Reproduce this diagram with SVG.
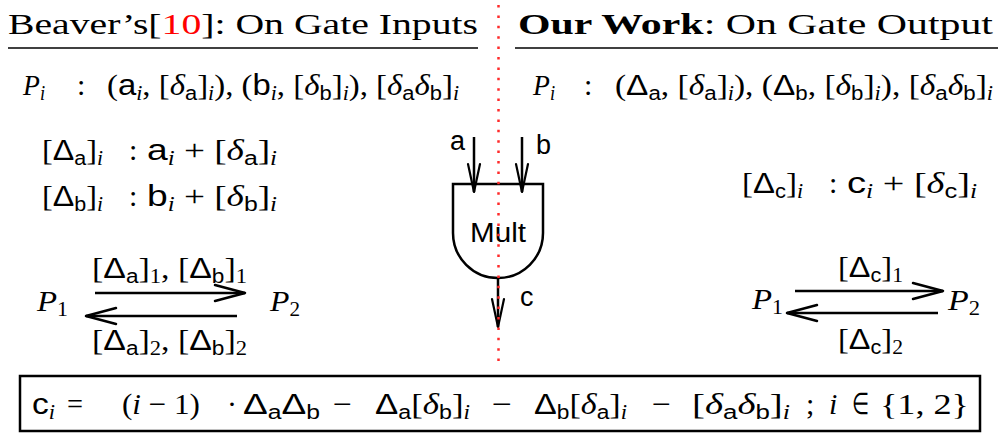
<svg xmlns="http://www.w3.org/2000/svg" width="1007" height="437" viewBox="0 0 1007 437">
<style>
.t{font-family:"Liberation Serif","Times New Roman",serif;font-size:30px;fill:#000}
.sf{font-family:"Liberation Sans",Arial,sans-serif}
.it{font-style:italic}
.sb{font-size:20px;baseline-shift:-5px}
.red{fill:#f00}
.b{font-weight:bold}
.lbl{font-family:"Liberation Sans",Arial,sans-serif;font-size:27px;fill:#000}
.ln{stroke:#000;stroke-width:2.5;fill:none}
.rule{stroke:#000;stroke-width:1.5}
</style>
<defs>
<marker id="ah" viewBox="0 0 32 18" refX="31" refY="9" markerWidth="32" markerHeight="18" markerUnits="userSpaceOnUse" orient="auto" style="overflow:visible"><path d="M1,1 L31,9 L1,17" fill="none" stroke="#000" stroke-width="2.5" stroke-linejoin="round" stroke-linecap="round"/></marker>
<marker id="ahg" viewBox="0 0 30 14" refX="29" refY="7" markerWidth="30" markerHeight="14" markerUnits="userSpaceOnUse" orient="auto" style="overflow:visible"><path d="M1,1 L29,7 L1,13" fill="none" stroke="#000" stroke-width="2.2" stroke-linejoin="round" stroke-linecap="round"/></marker>
</defs>
<rect width="1007" height="437" fill="#fff"/>

<g id="title-left">
<text class="t" x="8" y="34" textLength="470" lengthAdjust="spacingAndGlyphs">Beaver’s[<tspan class="red">10</tspan>]: On Gate Inputs</text>
<line class="rule" x1="8" y1="48" x2="478" y2="48"/>
</g>
<g id="title-right">
<text class="t" x="518" y="34" textLength="475" lengthAdjust="spacingAndGlyphs"><tspan class="b">Our Work</tspan>: On Gate Output</text>
<line class="rule" x1="515" y1="48" x2="998" y2="48"/>
</g>

<g id="left-shares">
<text class="t" x="23" y="95" textLength="22" lengthAdjust="spacingAndGlyphs"><tspan class="it">P</tspan><tspan class="it sb">i</tspan></text>
<text class="t" x="77" y="95">:</text>
<text class="t" x="107" y="95" textLength="352" lengthAdjust="spacingAndGlyphs">(<tspan class="sf">a</tspan><tspan class="it sb">i</tspan>, [<tspan class="it">δ</tspan><tspan class="sf sb">a</tspan>]<tspan class="it sb">i</tspan>), (<tspan class="sf">b</tspan><tspan class="it sb">i</tspan>, [<tspan class="it">δ</tspan><tspan class="sf sb">b</tspan>]<tspan class="it sb">i</tspan>), [<tspan class="it">δ</tspan><tspan class="sf sb">a</tspan><tspan class="it">δ</tspan><tspan class="sf sb">b</tspan>]<tspan class="it sb">i</tspan></text>
</g>
<g id="right-shares">
<text class="t" x="533" y="95" textLength="22" lengthAdjust="spacingAndGlyphs"><tspan class="it">P</tspan><tspan class="it sb">i</tspan></text>
<text class="t" x="584" y="95">:</text>
<text class="t" x="615" y="95" textLength="378" lengthAdjust="spacingAndGlyphs">(<tspan class="sf">Δ</tspan><tspan class="sf sb">a</tspan>, [<tspan class="it">δ</tspan><tspan class="sf sb">a</tspan>]<tspan class="it sb">i</tspan>), (<tspan class="sf">Δ</tspan><tspan class="sf sb">b</tspan>, [<tspan class="it">δ</tspan><tspan class="sf sb">b</tspan>]<tspan class="it sb">i</tspan>), [<tspan class="it">δ</tspan><tspan class="sf sb">a</tspan><tspan class="it">δ</tspan><tspan class="sf sb">b</tspan>]<tspan class="it sb">i</tspan></text>
</g>

<g id="left-deltas">
<text class="t" x="42" y="160" textLength="61" lengthAdjust="spacingAndGlyphs">[<tspan class="sf">Δ</tspan><tspan class="sf sb">a</tspan>]<tspan class="it sb">i</tspan></text>
<text class="t" x="129" y="160">:</text>
<text class="t" x="147" y="160" textLength="130" lengthAdjust="spacingAndGlyphs"><tspan class="sf">a</tspan><tspan class="it sb">i</tspan> + [<tspan class="it">δ</tspan><tspan class="sf sb">a</tspan>]<tspan class="it sb">i</tspan></text>
<text class="t" x="42" y="206" textLength="61" lengthAdjust="spacingAndGlyphs">[<tspan class="sf">Δ</tspan><tspan class="sf sb">b</tspan>]<tspan class="it sb">i</tspan></text>
<text class="t" x="129" y="206">:</text>
<text class="t" x="147" y="206" textLength="130" lengthAdjust="spacingAndGlyphs"><tspan class="sf">b</tspan><tspan class="it sb">i</tspan> + [<tspan class="it">δ</tspan><tspan class="sf sb">b</tspan>]<tspan class="it sb">i</tspan></text>
</g>

<g id="right-delta">
<text class="t" x="742" y="193" textLength="61" lengthAdjust="spacingAndGlyphs">[<tspan class="sf">Δ</tspan><tspan class="sf sb">c</tspan>]<tspan class="it sb">i</tspan></text>
<text class="t" x="829" y="193">:</text>
<text class="t" x="847" y="193" textLength="130" lengthAdjust="spacingAndGlyphs"><tspan class="sf">c</tspan><tspan class="it sb">i</tspan> + [<tspan class="it">δ</tspan><tspan class="sf sb">c</tspan>]<tspan class="it sb">i</tspan></text>
</g>

<g id="left-P1"><text class="t" x="37" y="311" textLength="31" lengthAdjust="spacingAndGlyphs"><tspan class="it">P</tspan><tspan class="sb">1</tspan></text></g>
<g id="left-P2"><text class="t" x="270" y="311" textLength="30" lengthAdjust="spacingAndGlyphs"><tspan class="it">P</tspan><tspan class="sb">2</tspan></text></g>
<g id="right-P1"><text class="t" x="752" y="309" textLength="31" lengthAdjust="spacingAndGlyphs"><tspan class="it">P</tspan><tspan class="sb">1</tspan></text></g>
<g id="right-P2"><text class="t" x="948" y="310" textLength="32" lengthAdjust="spacingAndGlyphs"><tspan class="it">P</tspan><tspan class="sb">2</tspan></text></g>

<g id="mult-gate">
<path class="ln" d="M453,184 H543 V233 A45,45 0 0 1 453,233 Z"/>
<text class="lbl" x="470" y="242" textLength="56" lengthAdjust="spacingAndGlyphs">Mult</text>
<text class="lbl" x="450" y="150">a</text>
<text class="lbl" x="536" y="154">b</text>
<text class="lbl" x="520" y="306">c</text>
</g>

<g id="connectors">
<line class="ln" x1="474" y1="137" x2="474" y2="192" marker-end="url(#ahg)"/>
<line class="ln" x1="522" y1="137" x2="522" y2="192" marker-end="url(#ahg)"/>
<line class="ln" x1="498" y1="278" x2="498" y2="327" marker-end="url(#ahg)"/>
<line class="ln" x1="95" y1="293" x2="245" y2="293" marker-end="url(#ah)"/>
<line class="ln" x1="237" y1="316" x2="86" y2="316" marker-end="url(#ah)"/>
<line class="ln" x1="795" y1="291" x2="943" y2="291" marker-end="url(#ah)"/>
<line class="ln" x1="938" y1="313" x2="787" y2="313" marker-end="url(#ah)"/>
<text class="t" x="92" y="278" textLength="155" lengthAdjust="spacingAndGlyphs">[<tspan class="sf">Δ</tspan><tspan class="sf sb">a</tspan>]<tspan class="sb">1</tspan>, [<tspan class="sf">Δ</tspan><tspan class="sf sb">b</tspan>]<tspan class="sb">1</tspan></text>
<text class="t" x="92" y="350" textLength="155" lengthAdjust="spacingAndGlyphs">[<tspan class="sf">Δ</tspan><tspan class="sf sb">a</tspan>]<tspan class="sb">2</tspan>, [<tspan class="sf">Δ</tspan><tspan class="sf sb">b</tspan>]<tspan class="sb">2</tspan></text>
<text class="t" x="838" y="277" textLength="65" lengthAdjust="spacingAndGlyphs">[<tspan class="sf">Δ</tspan><tspan class="sf sb">c</tspan>]<tspan class="sb">1</tspan></text>
<text class="t" x="838" y="349" textLength="65" lengthAdjust="spacingAndGlyphs">[<tspan class="sf">Δ</tspan><tspan class="sf sb">c</tspan>]<tspan class="sb">2</tspan></text>
</g>

<g id="formula">
<rect x="20" y="376" width="960" height="55" fill="none" stroke="#000" stroke-width="2.5"/>
<text class="t" x="32" y="414" textLength="23" lengthAdjust="spacingAndGlyphs"><tspan class="sf">c</tspan><tspan class="it sb">i</tspan></text>
<text class="t" x="67" y="414" textLength="16" lengthAdjust="spacingAndGlyphs">=</text>
<text class="t" x="122" y="414" textLength="78" lengthAdjust="spacingAndGlyphs">(<tspan class="it">i</tspan> − 1)</text>
<text class="t" x="227" y="414">·</text>
<text class="t" x="243" y="414" textLength="77" lengthAdjust="spacingAndGlyphs"><tspan class="sf">Δ</tspan><tspan class="sf sb">a</tspan><tspan class="sf">Δ</tspan><tspan class="sf sb">b</tspan></text>
<text class="t" x="333" y="414" textLength="19" lengthAdjust="spacingAndGlyphs">−</text>
<text class="t" x="375" y="414" textLength="95" lengthAdjust="spacingAndGlyphs"><tspan class="sf">Δ</tspan><tspan class="sf sb">a</tspan>[<tspan class="it">δ</tspan><tspan class="sf sb">b</tspan>]<tspan class="it sb">i</tspan></text>
<text class="t" x="492" y="414" textLength="20" lengthAdjust="spacingAndGlyphs">−</text>
<text class="t" x="534" y="414" textLength="93" lengthAdjust="spacingAndGlyphs"><tspan class="sf">Δ</tspan><tspan class="sf sb">b</tspan>[<tspan class="it">δ</tspan><tspan class="sf sb">a</tspan>]<tspan class="it sb">i</tspan></text>
<text class="t" x="652" y="414" textLength="19" lengthAdjust="spacingAndGlyphs">−</text>
<text class="t" x="692" y="414" textLength="98" lengthAdjust="spacingAndGlyphs">[<tspan class="it">δ</tspan><tspan class="sf sb">a</tspan><tspan class="it">δ</tspan><tspan class="sf sb">b</tspan>]<tspan class="it sb">i</tspan></text>
<text class="t" x="806" y="414">;</text>
<text class="t it" x="829" y="414">i</text>
<text class="t" x="852" y="414" textLength="17" lengthAdjust="spacingAndGlyphs">∈</text>
<text class="t" x="880" y="414" textLength="89" lengthAdjust="spacingAndGlyphs">{1, 2}</text>
</g>

<line id="divider" x1="498.5" y1="5" x2="498.5" y2="366" stroke="#ff2a2a" stroke-width="2.5" stroke-dasharray="2.5 7.9"/>
</svg>
